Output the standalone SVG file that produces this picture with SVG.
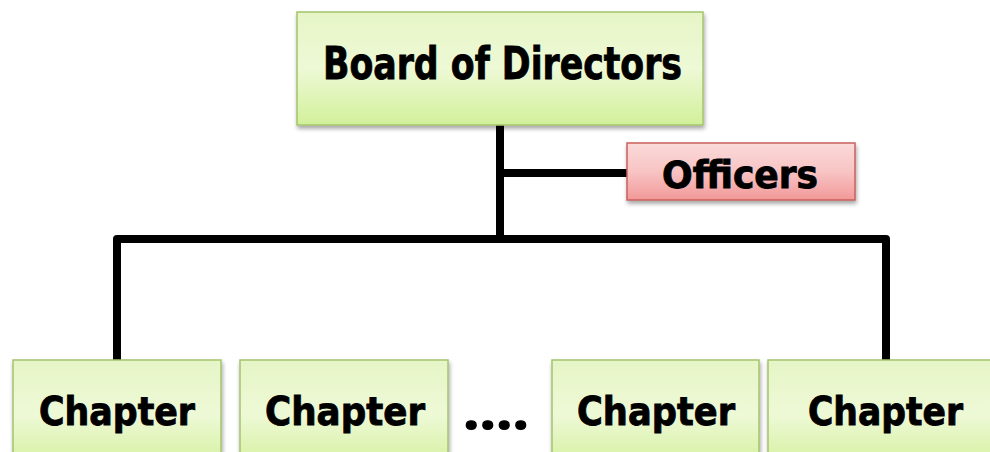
<svg xmlns="http://www.w3.org/2000/svg" width="990" height="452" viewBox="0 0 990 452">
<defs>
<linearGradient id="gGreen" x1="0" y1="0" x2="0" y2="1">
<stop offset="0" stop-color="#e6f5c6"/>
<stop offset="0.5" stop-color="#eef9d6"/>
<stop offset="1" stop-color="#d2f09a"/>
</linearGradient>
<linearGradient id="gRed" x1="0" y1="0" x2="0" y2="1">
<stop offset="0" stop-color="#fbdada"/>
<stop offset="0.5" stop-color="#f8c4c4"/>
<stop offset="1" stop-color="#f29898"/>
</linearGradient>
<filter id="sh" x="-10%" y="-10%" width="120%" height="130%">
<feGaussianBlur in="SourceAlpha" stdDeviation="2"/>
<feOffset dx="1" dy="3" result="b"/>
<feComponentTransfer><feFuncA type="linear" slope="0.35"/></feComponentTransfer>
<feMerge><feMergeNode/><feMergeNode in="SourceGraphic"/></feMerge>
</filter>
</defs>
<style>
.g{fill:url(#gGreen);stroke:#a4c46c;stroke-width:1.5;filter:url(#sh)}
.r{fill:url(#gRed);stroke:#c9605c;stroke-width:1.5;filter:url(#sh)}
.t{font-family:"DejaVu Sans",Verdana,sans-serif;font-weight:bold;fill:#000;stroke:#000;stroke-width:0.9}
.d{font-family:"Open Sans","DejaVu Sans",sans-serif;font-weight:bold;fill:#000;stroke:#000;stroke-width:1.2;stroke-linejoin:round}
.c{fill:none;stroke:#000;stroke-width:8;stroke-linejoin:round}
</style>
<rect width="990" height="452" fill="#fff"/>
<g id="connectors">
<path class="c" d="M500 125 V239"/>
<path class="c" d="M500 173 H628"/>
<path class="c" d="M117 361 V239 H886 V361"/>
</g>
<g id="board">
<rect class="g" x="297" y="12" width="406" height="113"/>
<text class="t" x="323" y="79" font-size="44" textLength="359" lengthAdjust="spacingAndGlyphs">Board of Directors</text>
</g>
<g id="officers">
<rect class="r" x="627" y="143" width="228" height="57"/>
<text class="t" x="662" y="188" font-size="37" textLength="156" lengthAdjust="spacingAndGlyphs">Officers</text>
</g>
<g id="chapter1">
<rect class="g" x="13" y="360" width="208" height="110"/>
<text class="t" x="39" y="425" font-size="39" textLength="156" lengthAdjust="spacingAndGlyphs">Chapter</text>
</g>
<g id="chapter2">
<rect class="g" x="240" y="360" width="208" height="110"/>
<text class="t" x="265" y="425" font-size="39" textLength="160" lengthAdjust="spacingAndGlyphs">Chapter</text>
</g>
<g id="ellipsis">
<text class="d" x="463" y="429" font-size="52" textLength="66" lengthAdjust="spacingAndGlyphs">....</text>
</g>
<g id="chapter3">
<rect class="g" x="552" y="360" width="207" height="110"/>
<text class="t" x="577" y="425" font-size="39" textLength="158" lengthAdjust="spacingAndGlyphs">Chapter</text>
</g>
<g id="chapter4">
<rect class="g" x="768" y="360" width="240" height="110"/>
<text class="t" x="808" y="425" font-size="39" textLength="155" lengthAdjust="spacingAndGlyphs">Chapter</text>
</g>
</svg>
